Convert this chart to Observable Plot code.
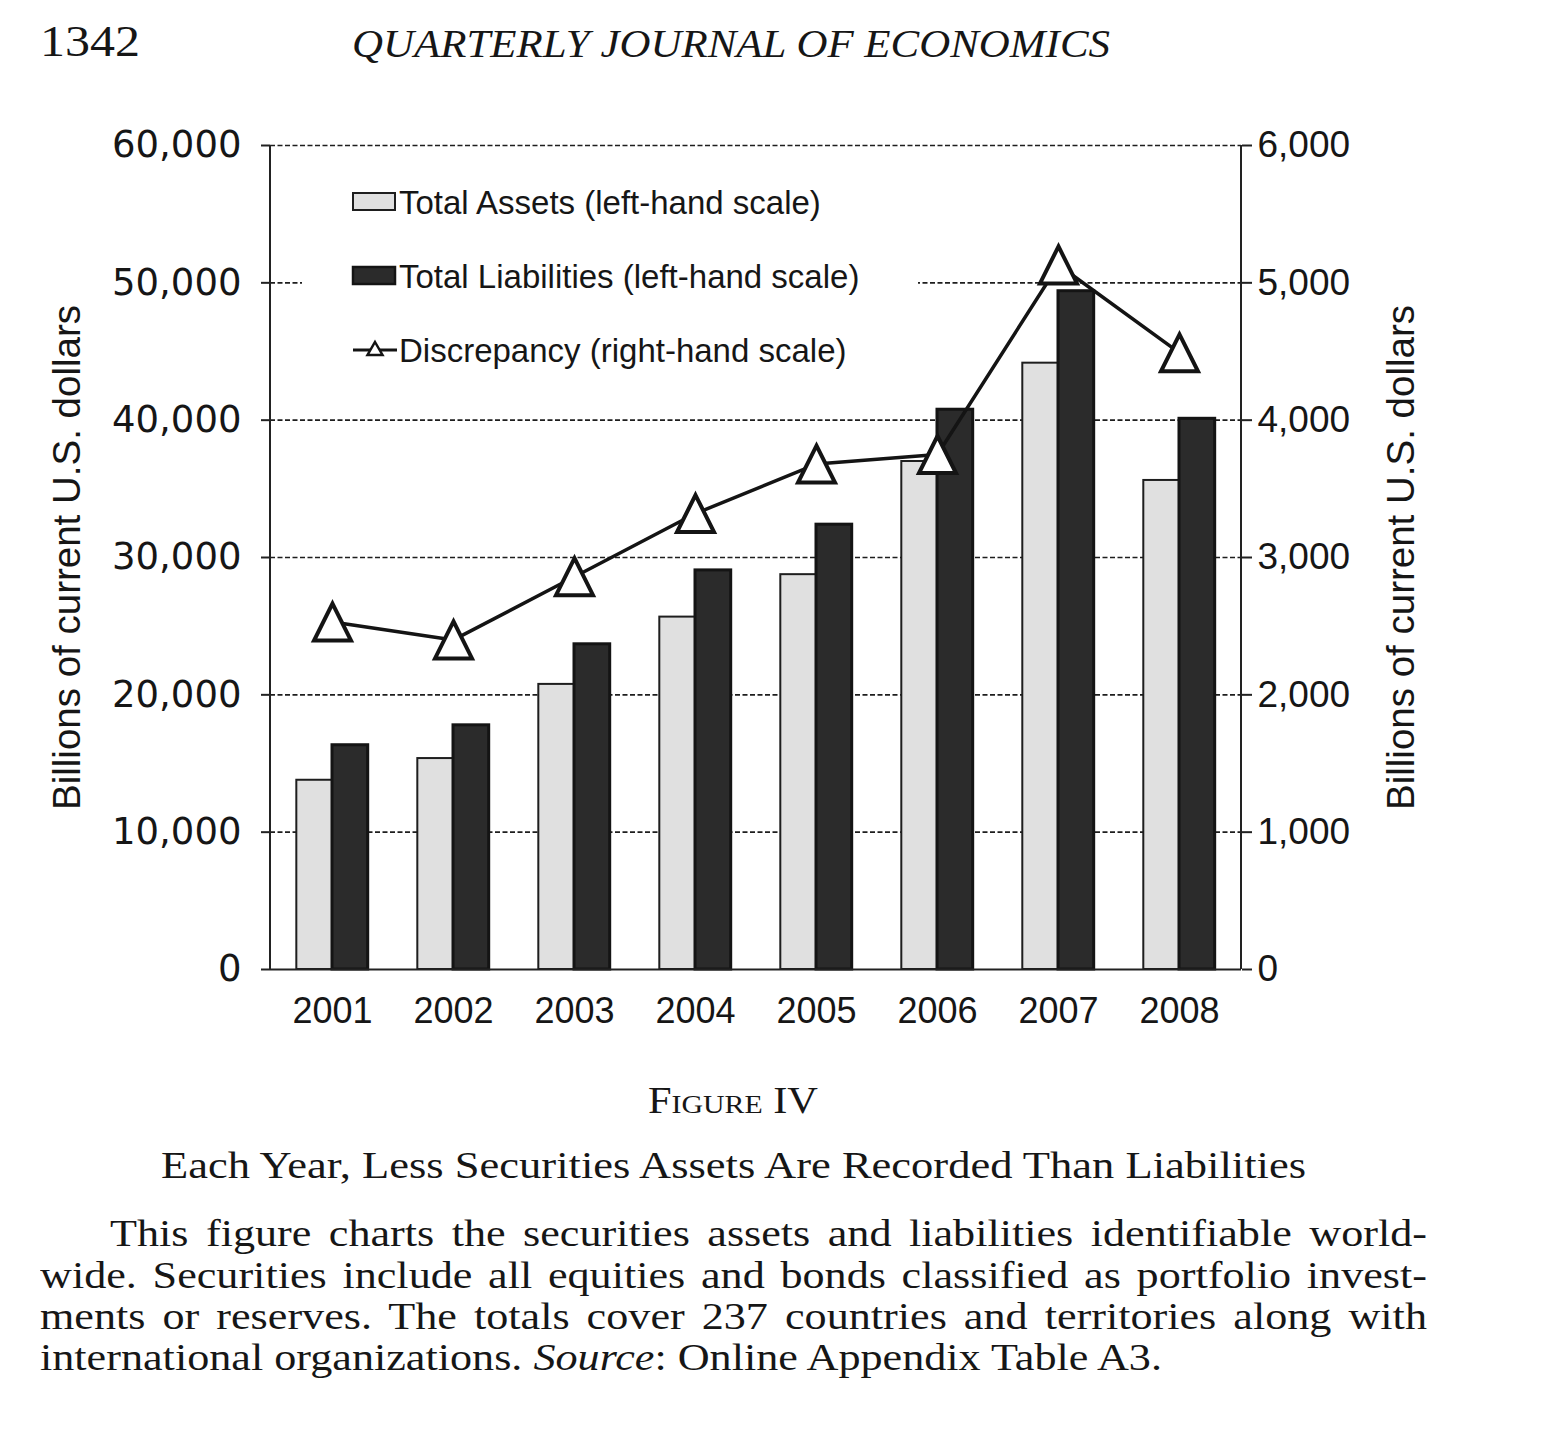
<!DOCTYPE html>
<html><head><meta charset="utf-8">
<script src="https://cdn.jsdelivr.net/npm/d3@7"></script>
<script src="https://cdn.jsdelivr.net/npm/@observablehq/plot@0.6"></script>
<style>
html,body{margin:0;padding:0;background:#fff;}
#page{position:relative;width:1557px;height:1432px;overflow:hidden;background:#fff;color:#1a1a1a;}
.t{position:absolute;white-space:nowrap;line-height:1;color:#161616;transform-origin:0 0;}
#chart{position:absolute;left:0;top:100px;}
#legend{position:absolute;left:302px;top:163px;width:616px;height:232px;background:#fff;}
svg g[aria-label="y-axis label"]{font-family:"Liberation Sans",Arial,sans-serif;font-size:38.5px;}
.pl{position:absolute;line-height:1;text-align:justify;text-align-last:justify;font-family:"Liberation Serif",serif;color:#161616;transform-origin:0 0;}
</style></head>
<body><div id="page"><div id="chart"></div><div id="legend"></div></div>
<script>
const years = ["2001","2002","2003","2004","2005","2006","2007","2008"];
const totalAssets = [13780,15360,20760,25660,28750,36990,44150,35610];
const totalLiabilities = [16330,17780,23680,29060,32390,40760,49390,40100];
const discrepancy = [2530,2400,2860,3320,3680,3750,5130,4490];
const leftTicks = [0,10000,20000,30000,40000,50000,60000];
const rightTicks = [0,1000,2000,3000,4000,5000,6000];
const seriesNames = ["Total Assets (left-hand scale)","Total Liabilities (left-hand scale)","Discrepancy (right-hand scale)"];
const axisTitle = "Billions of current U.S. dollars";
const pageNumber = "1342";
const journal = "QUARTERLY JOURNAL OF ECONOMICS";
const figureLabel = "Figure IV";
const figureTitle = "Each Year, Less Securities Assets Are Recorded Than Liabilities";
const captionLines = [
  "This figure charts the securities assets and liabilities identifiable world-",
  "wide. Securities include all equities and bonds classified as portfolio invest-",
  "ments or reserves. The totals cover 237 countries and territories along with",
  "international organizations. <i>Source</i>: Online Appendix Table A3."
];

const rows = years.map((year,i)=>({year, assets: totalAssets[i], liabilities: totalLiabilities[i], discrepancy: discrepancy[i]}));
const ratio = leftTicks[leftTicks.length-1]/rightTicks[rightTicks.length-1];

const W=1557,H=950,ML=270,MR=316,MT=45,MB=81;
const PI=0.41, PO=0.2175;
const step=(W-ML-MR)/(years.length-PI+2*PO);
const bw=step*(1-PI);

const tri = {draw(ctx,size){const r=Math.sqrt(size/Math.PI); ctx.moveTo(0,-r); ctx.lineTo(r,r); ctx.lineTo(-r,r); ctx.closePath();}};

const axisLines = (index, scales, values, dims) => {
  const ns="http://www.w3.org/2000/svg";
  const g=document.createElementNS(ns,"g");
  const y=scales.y;
  for (const x of [dims.marginLeft, dims.width-dims.marginRight]) {
    const l=document.createElementNS(ns,"line");
    l.setAttribute("x1",x);l.setAttribute("x2",x);
    l.setAttribute("y1",y(leftTicks[0]));l.setAttribute("y2",y(leftTicks[leftTicks.length-1]));
    l.setAttribute("stroke","#222");l.setAttribute("stroke-width","2");
    g.appendChild(l);
  }
  return g;
};

const chart = Plot.plot({
  width: W, height: H,
  marginLeft: ML, marginRight: MR, marginTop: MT, marginBottom: MB,
  style: {background:"white", color:"#161616", fontFamily:"Liberation Sans, Arial, sans-serif"},
  x: {type:"band", domain: years, paddingInner: PI, paddingOuter: PO, round:false},
  y: {domain:[leftTicks[0], leftTicks[leftTicks.length-1]]},
  marks: [
    Plot.ruleY(leftTicks.filter(d=>d>0), {stroke:"#1e1e1e", strokeWidth:1.6, strokeDasharray:"5,2.5"}),
    Plot.barY(rows, {x:"year", y:"assets", fill:"#e0e0e0", stroke:"#1e1e1e", strokeWidth:2, insetRight: bw/2}),
    Plot.barY(rows, {x:"year", y:"liabilities", fill:"#2b2b2b", stroke:"#141414", strokeWidth:3, insetLeft: bw/2}),
    Plot.ruleY([0], {stroke:"#222", strokeWidth:2}),
    axisLines,
    Plot.line(rows, {x:"year", y: d=>d.discrepancy*ratio, stroke:"#141414", strokeWidth:3.5}),
    Plot.dot(rows, {x:"year", y: d=>d.discrepancy*ratio, symbol: tri, r: 18.5, fill:"white", stroke:"#141414", strokeWidth:4, strokeLinejoin:"miter"}),
    Plot.axisY({ticks: leftTicks, tickFormat: d3.format(","), tickSize: 9, tickPadding: 20, fontSize: 37, fontFamily:"DejaVu Sans", stroke:"#222", strokeWidth:2, label: axisTitle, labelArrow:"none", labelAnchor:"center", labelOffset: 218}),
    Plot.axisY({anchor:"right", ticks: rightTicks.map(d=>d*ratio), tickFormat: d=>d3.format(",")(d/ratio), tickSize: 10, tickPadding: 6, fontSize: 37, fontFamily:"Liberation Sans", stroke:"#222", strokeWidth:2, label: axisTitle, labelArrow:"none", labelAnchor:"center", labelOffset: 172}),
    Plot.axisX({tickSize:0, tickPadding:28, fontSize:36, fontFamily:"Liberation Sans", label:null})
  ]
});
document.getElementById("chart").appendChild(chart);

// legend
const legend=document.getElementById("legend");
const swatches = [
  `<svg width="48" height="24" style="position:absolute;left:49px;top:27px"><rect x="2" y="3" width="42" height="17" fill="#e0e0e0" stroke="#1e1e1e" stroke-width="2"/></svg>`,
  `<svg width="48" height="24" style="position:absolute;left:49px;top:101px"><rect x="2" y="3" width="42" height="17" fill="#2b2b2b" stroke="#141414" stroke-width="2.5"/></svg>`,
  `<svg width="48" height="24" style="position:absolute;left:49px;top:175px"><line x1="2" x2="46" y1="12" y2="12" stroke="#141414" stroke-width="3"/><path d="M24,4 L31.5,17 L16.5,17 Z" fill="white" stroke="#141414" stroke-width="2.5"/></svg>`
];
const legBase=[51,125,199];
seriesNames.forEach((name,i)=>{
  legend.insertAdjacentHTML("beforeend", swatches[i]);
  const el=document.createElement("div");
  el.className="t";
  el.style.fontFamily='"Liberation Sans",Arial,sans-serif';
  el.style.fontSize="33px";
  el.style.left="97px";
  el.style.top=(legBase[i]-0.8465*33)+"px";
  el.textContent=name;
  legend.appendChild(el);
});

// texts (widened horizontally to match the reference face)
const page=document.getElementById("page");
function addText(str,{x,baseline,size,family='"Liberation Serif",serif',style="normal",variant="normal",anchor="start",width=null}){
  const el=document.createElement("div");
  el.className="t";
  el.style.fontFamily=family; el.style.fontSize=size+"px"; el.style.fontStyle=style; el.style.fontVariant=variant;
  el.innerHTML=str;
  page.appendChild(el);
  el.style.top=(baseline-0.8375*size)+"px";
  let w=el.getBoundingClientRect().width;
  if(width){el.style.transform=`scaleX(${width/w})`;w=width;}
  el.style.left=(anchor==="middle"?x-w/2:x)+"px";
  return el;
}
addText(pageNumber,{x:40,baseline:57,size:44,width:100});
addText(journal,{x:352,baseline:57,size:41,style:"italic",width:758});
addText(figureLabel,{x:733,baseline:1113,size:37,variant:"small-caps",anchor:"middle",width:170});
addText(figureTitle,{x:733,baseline:1178,size:38,anchor:"middle",width:1145});

// paragraph
const pSize=38;
const lineBase=[1246,1288,1329,1370];
const probe=document.createElement("div");probe.className="pl";probe.style.whiteSpace="nowrap";probe.style.fontSize=pSize+"px";probe.innerHTML=captionLines[3];page.appendChild(probe);
const sx=1122/probe.getBoundingClientRect().width;probe.remove();
captionLines.forEach((s,i)=>{
  const el=document.createElement("div");
  el.className="pl";
  el.style.fontSize=pSize+"px";
  el.style.top=(lineBase[i]-0.8375*pSize)+"px";
  const left = i===0?110:40;
  el.style.left=left+"px";
  el.style.transform=`scaleX(${sx})`;
  if(i<3){el.style.width=((1427-left)/sx)+"px";el.style.whiteSpace="nowrap";}
  else {el.style.textAlign="left";el.style.textAlignLast="left";el.style.whiteSpace="nowrap";}
  el.innerHTML=s;
  page.appendChild(el);
});
</script>
</body></html>
